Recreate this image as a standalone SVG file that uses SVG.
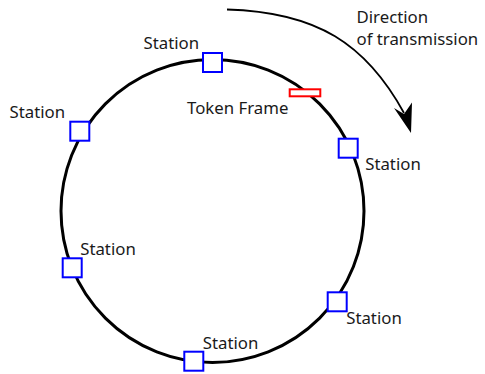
<svg xmlns="http://www.w3.org/2000/svg" width="485" height="374" viewBox="0 0 485 374">
  <style>
    .ring { fill: none; stroke: #000; stroke-width: 3; }
    .station { fill: #fff; stroke: #0000ff; stroke-width: 2; }
    .token { fill: #fff; stroke: #ff0000; stroke-width: 2; }
    .flow { fill: none; stroke: #000; stroke-width: 1.8; }
    .head { fill: #000; stroke: none; }
    text { font-family: "Noto Sans", "Open Sans", sans-serif; font-size: 16.8px; fill: #1a1a1a; }
  </style>

  <!-- ring medium and direction arrow -->
  <g id="connectors">
    <circle class="ring" cx="212.5" cy="211" r="151.5"/>
    <path class="flow" d="M227,9.5 C317,12 366,44 404,113"/>
    <polygon class="head" points="411,133 394,108 404,114 412,102.5"/>
  </g>

  <g id="token-frame">
    <rect class="token" x="289.7" y="89.3" width="30.6" height="7"/>
    <text x="187" y="114.3">Token Frame</text>
  </g>

  <g id="station-top">
    <rect class="station" x="203" y="53" width="19" height="19"/>
    <text x="143.5" y="48.5">Station</text>
  </g>
  <g id="station-upper-left">
    <rect class="station" x="70.3" y="121.7" width="19" height="19"/>
    <text x="9.5" y="117.5">Station</text>
  </g>
  <g id="station-left">
    <rect class="station" x="62.7" y="258.3" width="19" height="19"/>
    <text x="80.2" y="255">Station</text>
  </g>
  <g id="station-bottom">
    <rect class="station" x="184.3" y="351.7" width="19" height="19"/>
    <text x="202.8" y="349">Station</text>
  </g>
  <g id="station-lower-right">
    <rect class="station" x="327.7" y="292.3" width="19" height="19"/>
    <text x="346.2" y="324">Station</text>
  </g>
  <g id="station-upper-right">
    <rect class="station" x="338.7" y="138.7" width="19" height="19"/>
    <text x="365.2" y="170">Station</text>
  </g>

  <g id="direction-label">
    <text x="356.5" y="23.3">Direction</text>
    <text x="356.5" y="44.5">of transmission</text>
  </g>
</svg>
